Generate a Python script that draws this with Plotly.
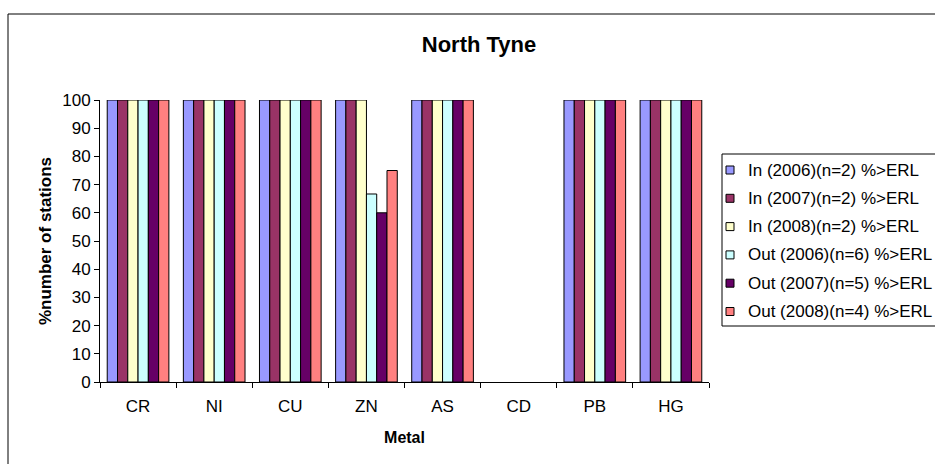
import plotly.graph_objects as go

metals = ["CR", "NI", "CU", "ZN", "AS", "CD", "PB", "HG"]

series_names = [
    "In (2006)(n=2) %>ERL",
    "In (2007)(n=2) %>ERL",
    "In (2008)(n=2) %>ERL",
    "Out (2006)(n=6) %>ERL",
    "Out (2007)(n=5) %>ERL",
    "Out (2008)(n=4) %>ERL",
]

in_2006 = [100, 100, 100, 100, 100, 0, 100, 100]
in_2007 = [100, 100, 100, 100, 100, 0, 100, 100]
in_2008 = [100, 100, 100, 100, 100, 0, 100, 100]
out_2006 = [100, 100, 100, 66.67, 100, 0, 100, 100]
out_2007 = [100, 100, 100, 60, 100, 0, 100, 100]
out_2008 = [100, 100, 100, 75, 100, 0, 100, 100]

series_values = [in_2006, in_2007, in_2008, out_2006, out_2007, out_2008]
colors = ["#9999FF", "#993366", "#FFFFCC", "#CCFFFF", "#660066", "#FF8080"]

fig = go.Figure()
for name, vals, col in zip(series_names, series_values, colors):
    fig.add_trace(go.Bar(
        x=metals,
        y=[v if v > 0 else None for v in vals],
        name=name,
        showlegend=False,
        marker=dict(color=col, line=dict(color="black", width=1)),
    ))

# plot area geometry in pixels
W, H = 935, 464
L, R, T, B = 100, 226, 100, 82
pw, ph = W - L - R, H - T - B


def px_x(p):
    return (p - L) / pw


def px_y(p):
    return (H - B - p) / ph


FONT = "Arial, Liberation Sans, sans-serif"

# outer chart frame
shapes = [dict(
    type="rect", xref="paper", yref="paper",
    x0=px_x(8), x1=px_x(W + 20), y0=px_y(H + 20), y1=px_y(14),
    line=dict(color="black", width=1), layer="below",
)]

# legend box, swatches and labels
LEG_LEFT, LEG_TOP, LEG_BOTTOM = 722, 154, 326
ROW0, ROW_STEP = 170, 28.3
shapes.append(dict(
    type="rect", xref="paper", yref="paper",
    x0=px_x(LEG_LEFT), x1=px_x(W + 20), y0=px_y(LEG_BOTTOM), y1=px_y(LEG_TOP),
    line=dict(color="black", width=1), fillcolor="white", layer="above",
))
annotations = []
for i, (name, col) in enumerate(zip(series_names, colors)):
    yc = ROW0 + i * ROW_STEP
    shapes.append(dict(
        type="rect", xref="paper", yref="paper",
        x0=px_x(726), x1=px_x(734), y0=px_y(yc + 4), y1=px_y(yc - 4),
        line=dict(color="black", width=1), fillcolor=col, layer="above",
    ))
    annotations.append(dict(
        text=name, xref="paper", yref="paper",
        x=px_x(746), y=px_y(yc), xanchor="left", yanchor="middle",
        showarrow=False, font=dict(size=17, family=FONT, color="black"),
    ))

fig.update_layout(
    width=W,
    height=H,
    margin=dict(l=L, r=R, t=T, b=B, pad=0, autoexpand=False),
    paper_bgcolor="white",
    plot_bgcolor="white",
    barmode="group",
    bargap=0.19,
    bargroupgap=0,
    font=dict(family=FONT, size=17, color="black"),
    title=dict(
        text="<b>North Tyne</b>",
        x=px_x(479), xref="paper", xanchor="center",
        y=1 - 44 / H, yanchor="middle",
        font=dict(size=22, color="black"),
    ),
    xaxis=dict(
        showline=True, linecolor="black", linewidth=1,
        ticks="outside", ticklen=5, tickcolor="black",
        tickson="boundaries",
        showgrid=False,
        tickfont=dict(size=17),
        ticklabelstandoff=9,
        title=dict(text="<b>Metal</b>", font=dict(size=16), standoff=16),
    ),
    yaxis=dict(
        range=[0, 100], dtick=10,
        showline=True, linecolor="black", linewidth=1,
        ticks="outside", ticklen=5, tickcolor="black",
        showgrid=False, zeroline=False,
        tickfont=dict(size=17),
        title=dict(text="<b>%number of stations</b>", font=dict(size=17), standoff=6),
    ),
    shapes=shapes,
    annotations=annotations,
)

fig.write_html("out.html")
